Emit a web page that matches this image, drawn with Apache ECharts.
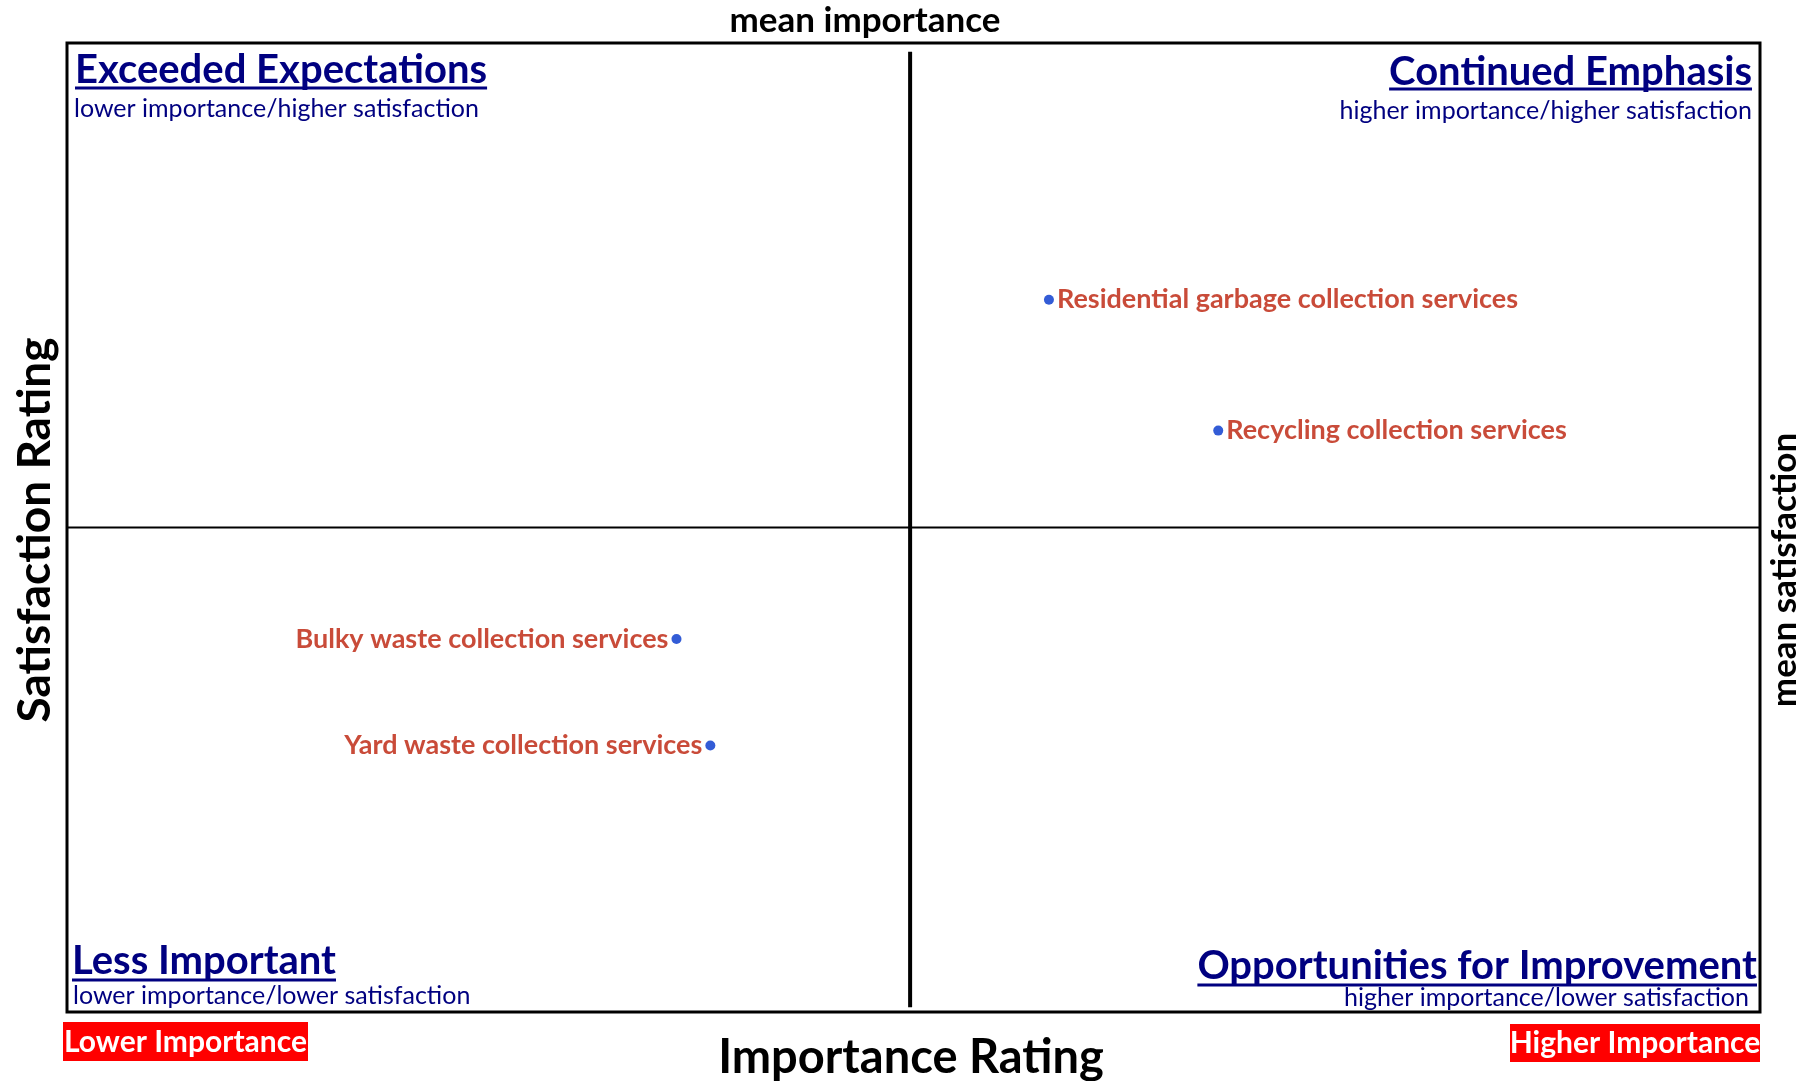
<!DOCTYPE html>
<html>
<head>
<meta charset="utf-8">
<title>Importance-Satisfaction Matrix</title>
<script src="https://cdn.jsdelivr.net/npm/echarts@6/dist/echarts.min.js"></script>
<style>
  html, body { margin: 0; padding: 0; background: #fff; }
  #main { width: 1816px; height: 1081px; }
</style>
</head>
<body>
<div id="main"></div>
<script>
// services shown on the matrix
var services = [
	'Residential garbage collection services',
	'Recycling collection services',
	'Bulky waste collection services',
	'Yard waste collection services'
];
var importance = [58.0, 68.0, 36.0, 38.0];
var satisfaction = [73.5, 60.0, 38.5, 27.5];

// mean lines
var meanImportance = 49.8;
var meanSatisfaction = 50;

var quadrantTitles = ['Exceeded Expectations', 'Continued Emphasis', 'Less Important', 'Opportunities for Improvement'];
var quadrantNotes = [
	'lower importance/higher satisfaction',
	'higher importance/higher satisfaction',
	'lower importance/lower satisfaction',
	'higher importance/lower satisfaction'
];

var FONT = 'Lato';
var NAVY = '#000080';
var RED_TEXT = '#bc1e08';

// where the quadrant texts sit
var quadrantLayout = [
	{ x: 75, nx: 74, ty: 70, ny: 109, ul: 88, align: 'left' },
	{ x: 1752, nx: 1752, ty: 72, ny: 111, ul: 89, align: 'right' },
	{ x: 72, nx: 73, ty: 961, ny: 996, ul: 980, align: 'left' },
	{ x: 1757, nx: 1749, ty: 966, ny: 998, ul: 985, align: 'right' }
];

var measureCtx = document.createElement('canvas').getContext('2d');
function textWidth(text, size, weight) {
	measureCtx.font = weight + ' ' + size + 'px ' + FONT;
	return measureCtx.measureText(text).width;
}

function textEl(text, x, y, size, weight, color, align, rotation) {
	return {
		type: 'text',
		x: x,
		y: y,
		rotation: rotation || 0,
		z: 10,
		style: {
			text: text,
			fill: color,
			fontSize: size,
			fontWeight: weight,
			fontFamily: FONT,
			align: align,
			verticalAlign: 'middle',
			textAlign: align,
			textVerticalAlign: 'middle'
		}
	};
}

var graphics = [];

for (var i = 0; i < quadrantTitles.length; i++) {
	var q = quadrantLayout[i];
	var w = textWidth(quadrantTitles[i], 40, 'bold');
	graphics.push(textEl(quadrantTitles[i], q.x, q.ty, 40, 'bold', NAVY, q.align));
	graphics.push({
		type: 'rect',
		z: 10,
		shape: { x: q.align == 'left' ? q.x : q.x - w, y: q.ul - 1.5, width: w, height: 3 },
		style: { fill: NAVY }
	});
	graphics.push(textEl(quadrantNotes[i], q.nx, q.ny, 25, 'normal', NAVY, q.align));
}

// red boxes under the plot
graphics.push({ type: 'rect', z: 10, shape: { x: 63, y: 1022, width: 245, height: 39 }, style: { fill: '#ff0000' } });
graphics.push(textEl('Lower Importance', 185.5, 1042, 30, 'bold', '#ffffff', 'center'));
graphics.push({ type: 'rect', z: 10, shape: { x: 1510, y: 1024, width: 250, height: 38 }, style: { fill: '#ff0000' } });
graphics.push(textEl('Higher Importance', 1635, 1043, 30, 'bold', '#ffffff', 'center'));

// axis titles
graphics.push(textEl('mean importance', 865, 21, 35, 'bold', '#000000', 'center'));
graphics.push(textEl('Importance Rating', 911, 1058, 47, 'bold', '#000000', 'center'));
graphics.push(textEl('Satisfaction Rating', 35, 530, 46, 'bold', '#000000', 'center', Math.PI / 2));
graphics.push(textEl('mean satisfaction', 1785, 570, 35, 'bold', '#000000', 'center', Math.PI / 2));

var points = [];
for (var j = 0; j < services.length; j++) {
	points.push({
		name: services[j],
		value: [importance[j], satisfaction[j]],
		label: { position: importance[j] < meanImportance ? 'left' : 'right' }
	});
}

var myChart = echarts.init(document.getElementById('main'));

var option = {
	animation: false,
	backgroundColor: '#ffffff',
	grid: {
		show: true,
		left: 67,
		right: 56,
		top: 43,
		bottom: 69,
		borderColor: '#000000',
		borderWidth: 3,
		backgroundColor: 'transparent'
	},
	xAxis: {
		type: 'value',
		min: 0,
		max: 100,
		axisLine: { show: false },
		axisTick: { show: false },
		axisLabel: { show: false },
		splitLine: { show: false }
	},
	yAxis: {
		type: 'value',
		min: 0,
		max: 100,
		axisLine: { show: false },
		axisTick: { show: false },
		axisLabel: { show: false },
		splitLine: { show: false }
	},
	graphic: graphics,
	series: [
		{
			type: 'line',
			data: [[meanImportance, 99.1], [meanImportance, 0.5]],
			symbol: 'none',
			lineStyle: { color: '#000000', width: 4 },
			z: 2
		},
		{
			type: 'line',
			data: [[0, meanSatisfaction], [100, meanSatisfaction]],
			symbol: 'none',
			lineStyle: { color: '#000000', width: 2 },
			z: 2
		},
		{
			type: 'scatter',
			data: points,
			symbolSize: 10,
			itemStyle: { color: '#0033cc' },
			label: {
				show: true,
				formatter: '{b}',
				color: RED_TEXT,
				fontFamily: FONT,
				fontWeight: 'bold',
				fontSize: 27,
				distance: 3
			},
			z: 5
		}
	]
};

myChart.setOption(option);
</script>
</body>
</html>
